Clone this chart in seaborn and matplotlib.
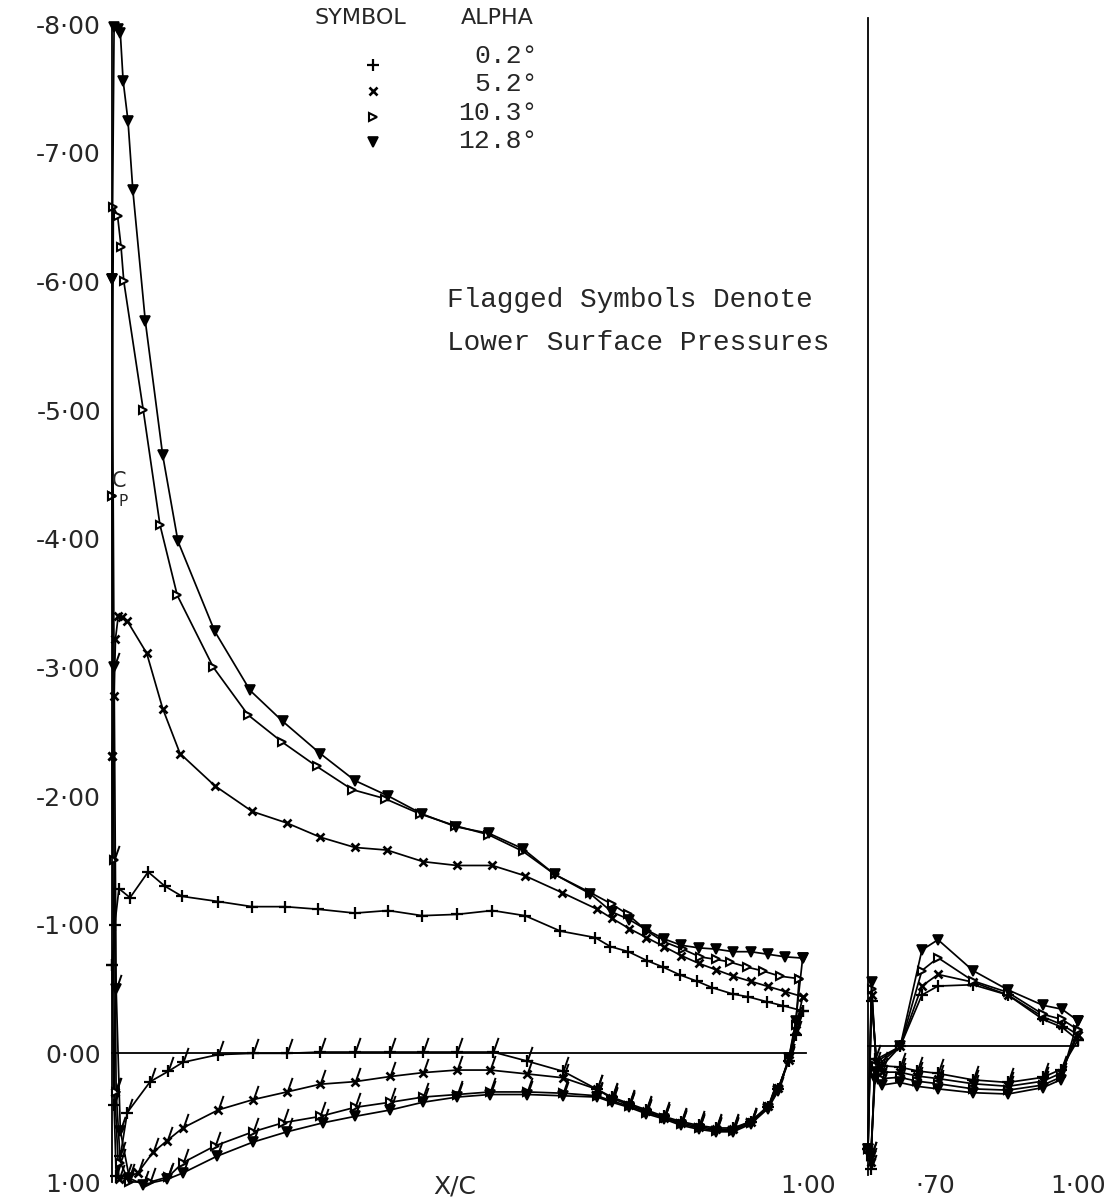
import matplotlib
matplotlib.use("Agg")
import matplotlib.pyplot as plt
import seaborn as sns
from matplotlib.path import Path

sns.set_style("white")
plt.rcParams['font.family'] = ['DejaVu Sans']

# ---- main element, upper surface ----
xu02 = [0.000, 0.004, 0.010, 0.026, 0.052, 0.076, 0.101, 0.153, 0.202, 0.249, 0.297, 0.350, 0.398, 0.447, 0.497, 0.548,
        0.595, 0.646, 0.696, 0.718, 0.744, 0.771, 0.794, 0.818, 0.843, 0.865, 0.895, 0.916, 0.944, 0.967, 0.995]
cu02 = [-0.69, -1.00, -1.28, -1.21, -1.41, -1.30, -1.22, -1.18, -1.14, -1.14, -1.12, -1.09, -1.11, -1.07, -1.08, -1.11,
        -1.07, -0.95, -0.90, -0.83, -0.79, -0.72, -0.67, -0.61, -0.56, -0.51, -0.46, -0.44, -0.40, -0.37, -0.33]
xu52 = [0.000, 0.003, 0.005, 0.009, 0.014, 0.022, 0.050, 0.073, 0.098, 0.148, 0.202, 0.252, 0.300, 0.350, 0.396, 0.448,
        0.497, 0.548, 0.595, 0.648, 0.699, 0.720, 0.745, 0.770, 0.795, 0.820, 0.845, 0.870, 0.895, 0.920, 0.945, 0.970, 0.995]
cu52 = [-2.31, -2.78, -3.22, -3.40, -3.39, -3.36, -3.11, -2.68, -2.33, -2.08, -1.88, -1.79, -1.68, -1.60, -1.58, -1.49,
        -1.46, -1.46, -1.38, -1.25, -1.12, -1.05, -0.97, -0.90, -0.83, -0.76, -0.70, -0.65, -0.60, -0.56, -0.52, -0.48, -0.44]
xu103 = [0.000, 0.002, 0.008, 0.013, 0.017, 0.045, 0.069, 0.094, 0.146, 0.196, 0.245, 0.295, 0.346, 0.393, 0.444, 0.494,
         0.542, 0.592, 0.638, 0.689, 0.720, 0.743, 0.771, 0.794, 0.822, 0.847, 0.870, 0.890, 0.915, 0.938, 0.962, 0.990]
cu103 = [-4.33, -6.58, -6.51, -6.27, -6.00, -5.00, -4.11, -3.56, -3.00, -2.63, -2.42, -2.23, -2.05, -1.98, -1.86, -1.77,
         -1.70, -1.57, -1.39, -1.25, -1.16, -1.08, -0.95, -0.87, -0.81, -0.75, -0.73, -0.71, -0.67, -0.64, -0.60, -0.58]
xu128 = [0.000, 0.003, 0.008, 0.012, 0.016, 0.023, 0.030, 0.048, 0.073, 0.095, 0.148, 0.199, 0.246, 0.300, 0.350, 0.398,
         0.447, 0.496, 0.543, 0.592, 0.638, 0.689, 0.720, 0.745, 0.770, 0.795, 0.820, 0.845, 0.870, 0.895, 0.920, 0.945,
         0.970, 0.995]
cu128 = [-6.02, -7.98, -7.96, -7.93, -7.56, -7.25, -6.71, -5.69, -4.65, -3.98, -3.28, -2.82, -2.58, -2.33, -2.12, -2.00,
         -1.86, -1.76, -1.71, -1.59, -1.39, -1.24, -1.10, -1.04, -0.96, -0.89, -0.84, -0.82, -0.81, -0.79, -0.79, -0.77,
         -0.75, -0.74]

# ---- main element, lower surface (flagged) ----
xl02 = [0.000, 0.003, 0.006, 0.012, 0.022, 0.055, 0.081, 0.102, 0.153, 0.203, 0.252, 0.300, 0.350, 0.401, 0.448, 0.497,
        0.549, 0.598, 0.650, 0.699, 0.720, 0.745, 0.770, 0.795, 0.820, 0.845, 0.870, 0.895, 0.920, 0.945, 0.960, 0.975,
        0.985, 0.995]
cl02 = [-0.69, 0.40, 0.95, 0.80, 0.46, 0.22, 0.14, 0.07, 0.01, 0.00, 0.00, -0.01, -0.01, -0.01, -0.01, -0.01,
        -0.01, 0.06, 0.14, 0.28, 0.34, 0.39, 0.44, 0.49, 0.53, 0.56, 0.58, 0.58, 0.53, 0.42, 0.28, 0.06, -0.14, -0.33]
xl52 = [0.000, 0.004, 0.010, 0.020, 0.037, 0.059, 0.079, 0.102, 0.153, 0.203, 0.252, 0.300, 0.350, 0.401, 0.448, 0.497,
        0.545, 0.598, 0.650, 0.699, 0.720, 0.745, 0.770, 0.795, 0.820, 0.845, 0.870, 0.895, 0.920, 0.945, 0.960, 0.975,
        0.985, 0.995]
cl52 = [-2.31, 0.30, 0.98, 0.97, 0.93, 0.77, 0.68, 0.58, 0.44, 0.36, 0.30, 0.24, 0.22, 0.18, 0.15, 0.13,
        0.13, 0.16, 0.19, 0.28, 0.35, 0.40, 0.45, 0.50, 0.54, 0.57, 0.59, 0.59, 0.53, 0.41, 0.27, 0.05, -0.18, -0.44]
xl103 = [0.000, 0.003, 0.006, 0.012, 0.025, 0.055, 0.081, 0.102, 0.148, 0.203, 0.246, 0.300, 0.350, 0.401, 0.448, 0.497,
         0.545, 0.598, 0.650, 0.699, 0.720, 0.745, 0.770, 0.795, 0.820, 0.845, 0.870, 0.895, 0.920, 0.945, 0.960, 0.975,
         0.985, 0.990]
cl103 = [-4.33, -1.50, 0.30, 0.85, 1.00, 1.00, 0.96, 0.85, 0.72, 0.61, 0.54, 0.49, 0.42, 0.38, 0.34, 0.32,
         0.30, 0.30, 0.31, 0.33, 0.37, 0.41, 0.46, 0.50, 0.55, 0.58, 0.60, 0.60, 0.54, 0.42, 0.28, 0.04, -0.22, -0.58]
xl128 = [0.000, 0.003, 0.006, 0.012, 0.025, 0.045, 0.079, 0.102, 0.151, 0.203, 0.252, 0.304, 0.350, 0.401, 0.448, 0.497,
         0.545, 0.598, 0.650, 0.699, 0.720, 0.745, 0.770, 0.795, 0.820, 0.845, 0.870, 0.895, 0.920, 0.945, 0.960, 0.975,
         0.985, 0.995]
cl128 = [-6.02, -3.00, -0.50, 0.60, 0.97, 1.02, 0.98, 0.93, 0.80, 0.69, 0.61, 0.54, 0.49, 0.44, 0.38, 0.34,
         0.32, 0.32, 0.33, 0.34, 0.38, 0.42, 0.47, 0.51, 0.56, 0.59, 0.61, 0.61, 0.55, 0.43, 0.29, 0.04, -0.25, -0.74]

# ---- flap ----
xfu = [0.700, 0.705, 0.712, 0.746, 0.777, 0.800, 0.850, 0.900, 0.950, 0.977, 1.000]
fu02 = [0.80, -0.35, 0.10, 0.00, -0.40, -0.47, -0.48, -0.40, -0.21, -0.15, -0.05]
fu52 = [0.80, -0.40, 0.12, 0.00, -0.47, -0.56, -0.50, -0.40, -0.23, -0.17, -0.09]
fu103 = [0.80, -0.45, 0.15, 0.00, -0.59, -0.69, -0.51, -0.42, -0.25, -0.21, -0.13]
fu128 = [0.80, -0.50, 0.20, 0.00, -0.75, -0.83, -0.59, -0.44, -0.32, -0.29, -0.20]
xfl = [0.700, 0.704, 0.710, 0.720, 0.745, 0.770, 0.800, 0.850, 0.900, 0.950, 0.975, 1.000]
fl02 = [0.80, 0.95, 0.10, 0.15, 0.16, 0.19, 0.21, 0.26, 0.28, 0.24, 0.18, -0.05]
fl52 = [0.80, 0.90, 0.15, 0.20, 0.20, 0.23, 0.25, 0.29, 0.31, 0.27, 0.21, -0.09]
fl103 = [0.80, 0.85, 0.20, 0.25, 0.24, 0.27, 0.29, 0.33, 0.34, 0.30, 0.24, -0.13]
fl128 = [0.80, 0.85, 0.25, 0.30, 0.28, 0.31, 0.33, 0.36, 0.37, 0.32, 0.26, -0.20]

alphas = ["0.2°", "5.2°", "10.3°", "12.8°"]
cp_ticks = [-8, -7, -6, -5, -4, -3, -2, -1, 0, 1]

# marker look per alpha
STYLE = [
    dict(marker='+', markersize=9, markeredgewidth=1.6, markerfacecolor='black'),
    dict(marker='x', markersize=6, markeredgewidth=1.9, markerfacecolor='black'),
    dict(marker='>', markersize=6, markeredgewidth=1.5, markerfacecolor='white'),
    dict(marker='v', markersize=6.5, markeredgewidth=1.2, markerfacecolor='black'),
]
FLAG = Path([(0, 0), (0.35, 1.0)], [Path.MOVETO, Path.LINETO])

W, H = 1120, 1200


def draw(ax, x, y, st, flagged=False):
    sns.lineplot(x=x, y=y, ax=ax, sort=False, estimator=None, color='black', lw=1.25,
                 markeredgecolor='black', clip_on=False, **st)
    if flagged:
        ax.plot(x[1:-1], y[1:-1], ls='none', marker=FLAG, markersize=21,
                markeredgecolor='black', markeredgewidth=1.4, clip_on=False)


fig = plt.figure(figsize=(W / 100, H / 100), dpi=100)
ax = fig.add_axes([112 / W, 18 / H, 708 / W, 1158 / H])
ax2 = fig.add_axes([868 / W, 25 / H, 224 / W, 1157 / H])

upper = [(xu02, cu02), (xu52, cu52), (xu103, cu103), (xu128, cu128)]
lower = [(xl02, cl02), (xl52, cl52), (xl103, cl103), (xl128, cl128)]
flap_up = [fu02, fu52, fu103, fu128]
flap_lo = [fl02, fl52, fl103, fl128]

for i in range(4):
    draw(ax, *upper[i], STYLE[i])
    draw(ax, *lower[i], STYLE[i], flagged=True)
    draw(ax2, xfu, flap_up[i], STYLE[i])
    draw(ax2, xfl, flap_lo[i], STYLE[i], flagged=True)

for a, xlim, xt, bnd in [(ax, (0, 1.02), [i / 10 for i in range(11)], (0, 1.0)),
                         (ax2, (0.70, 1.02), [0.7, 0.8, 0.9, 1.0], (0.70, 1.0))]:
    a.set_xlim(*xlim)
    a.set_ylim(1.0, -8.0)
    a.set_yticks(cp_ticks)
    a.set_xticks(xt)
    a.set_xticklabels([])
    for s in ['top', 'right']:
        a.spines[s].set_visible(False)
    a.spines['bottom'].set_position(('data', 0))
    a.spines['bottom'].set_bounds(*bnd)
    a.spines['left'].set_bounds(1.0, -8.0)
    for s in ['bottom', 'left']:
        a.spines[s].set_linewidth(1.3)
        a.spines[s].set_color('black')
    a.tick_params(axis='both', direction='inout', length=8, width=1.3, color='black')
    a.set_xlabel('')
    a.set_ylabel('')
    a.patch.set_alpha(0)

ax.set_yticklabels([f"{v:.2f}".replace('.', '·') for v in cp_ticks], fontsize=18)
ax.tick_params(axis='y', pad=4)
ax2.set_yticklabels([])


def ftext(x, y, s, **kw):
    fig.text(x / W, 1 - y / H, s, **kw)


# bottom labels
ftext(455, 1186, "X/C", ha='center', va='center', fontsize=18)
ftext(808, 1186, "1·00", ha='center', va='center', fontsize=18)
ftext(935, 1186, "·70", ha='center', va='center', fontsize=18)
ftext(1078, 1186, "1·00", ha='center', va='center', fontsize=18)

# Cp label
ftext(119, 481, "C", ha='center', va='center', fontsize=15)
ftext(123, 501, "P", ha='center', va='center', fontsize=11)

# symbol legend
ftext(360, 18, "SYMBOL", ha='center', va='center', fontsize=16)
ftext(497, 18, "ALPHA", ha='center', va='center', fontsize=16)
sym_y = [65, 91, 117, 142]
txt_y = [56, 84, 113, 141]
for i in range(4):
    fig.lines.append(plt.Line2D([373 / W], [1 - sym_y[i] / H], transform=fig.transFigure, color='black',
                                ls='none', markeredgecolor='black', **STYLE[i]))
    ftext(538, txt_y[i], alphas[i], ha='right', va='center', fontsize=19, family='Liberation Mono')

ftext(447, 300, "Flagged Symbols Denote", ha='left', va='center', fontsize=20, family='Liberation Mono')
ftext(447, 343, "Lower Surface Pressures", ha='left', va='center', fontsize=20, family='Liberation Mono')

fig.savefig("out.png", dpi=100, facecolor='white')
